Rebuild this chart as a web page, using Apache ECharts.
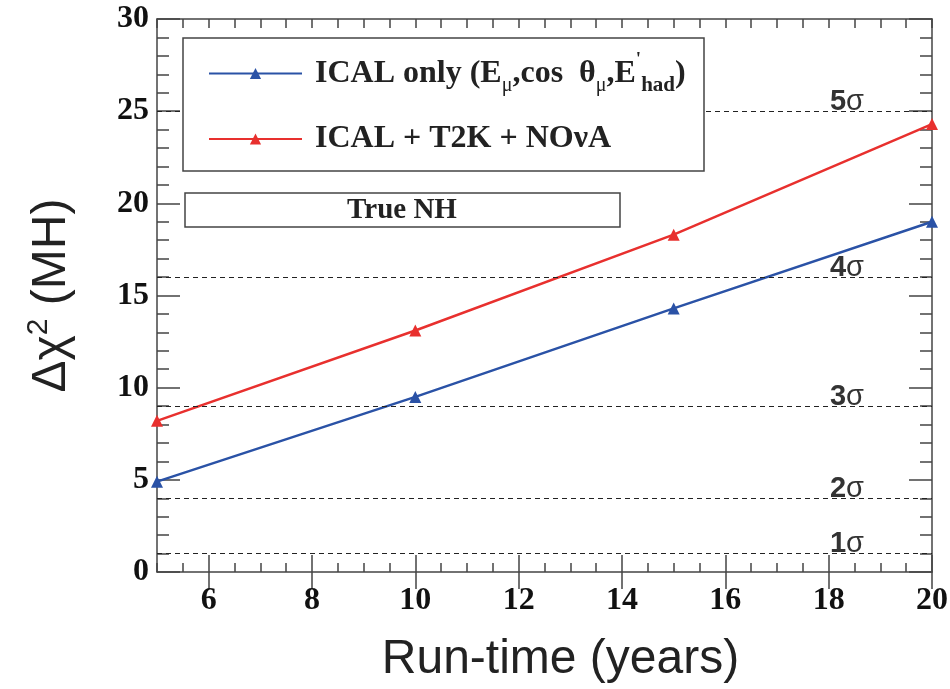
<!DOCTYPE html>
<html>
<head>
	<meta charset="utf-8">
	<script src="https://cdn.jsdelivr.net/npm/echarts@6/dist/echarts.min.js"></script>
	<style>html,body{margin:0;padding:0;background:#fff;}</style>
</head>
<body>
	<div id="main" style="width: 950px; height: 689px"></div>
	<script type="text/javascript">
		// run-time in years
		var years = [5, 10, 15, 20];
		// delta chi^2 values
		var icalOnly = [4.9, 9.5, 14.3, 19.0];
		var icalT2kNova = [8.2, 13.1, 18.3, 24.3];
		// sigma reference levels (delta chi^2 = n^2)
		var sigmaLevels = [1, 4, 9, 16, 25];
		var sigmaNames = ['1', '2', '3', '4', '5'];
		var xMajorTicks = [6, 8, 10, 12, 14, 16, 18, 20];

		var serifBold = { fontFamily: 'Liberation Serif', fontWeight: 'bold', color: '#111' };
		var frameColor = '#444';

		var myChart = echarts.init(document.getElementById('main'));

		function pairs(xs, ys) {
			return xs.map(function (x, i) { return [x, ys[i]]; });
		}

		// minor ticks axis + major ticks axis, both at bottom and top
		function xAxisPair(pos, withLabels) {
			return [{
				type: 'value', position: pos, min: 5, max: 20, interval: 0.5,
				axisLine: { show: true, onZero: false, lineStyle: { color: frameColor, width: 1.5 } },
				axisTick: { show: true, inside: true, length: 9, lineStyle: { color: frameColor, width: 1.5 } },
				axisLabel: { show: false },
				splitLine: { show: false }
			}, {
				type: 'value', position: pos, min: 5, max: 20,
				axisLine: { show: false },
				axisTick: { show: true, inside: true, length: 17, customValues: xMajorTicks,
					lineStyle: { color: frameColor, width: 1.5 } },
				axisLabel: withLabels ? Object.assign({ show: true, fontSize: 32, margin: 13,
					customValues: xMajorTicks }, serifBold) : { show: false },
				splitLine: { show: false },
				name: withLabels ? 'Run-time (years)' : '',
				nameLocation: 'middle',
				nameGap: 64,
				nameTextStyle: { fontFamily: 'Liberation Sans', fontSize: 48, color: '#222', padding: [0, 0, 0, 32] }
			}];
		}

		function yAxisDef(pos, withLabels) {
			return {
				type: 'value', position: pos, min: 0, max: 30, interval: 5,
				axisLine: { show: true, onZero: false, lineStyle: { color: frameColor, width: 1.5 } },
				axisTick: { show: true, inside: true, length: 23, lineStyle: { color: frameColor, width: 1.5 } },
				minorTick: { show: true, splitNumber: 5, length: 12, lineStyle: { color: frameColor, width: 1.5 } },
				axisLabel: withLabels ? Object.assign({ show: true, fontSize: 32, margin: 8 }, serifBold) : { show: false },
				splitLine: { show: false },
				name: withLabels ? 'Δχ{sup|2} (MH)' : '',
				nameLocation: 'middle',
				nameGap: 77,
				nameTextStyle: {
					fontFamily: 'Liberation Sans', fontSize: 48, color: '#222',
					rich: { sup: { fontFamily: 'Liberation Sans', fontSize: 30, color: '#222', padding: [0, 0, 26, 0] } }
				}
			};
		}

		var legendRich = {
			n: { fontFamily: 'Liberation Serif', fontWeight: 'bold', fontSize: 32, color: '#222' },
			mu: { fontFamily: 'Liberation Serif', fontSize: 20, color: '#222', padding: [24, 0, 0, 0] },
			sub: { fontFamily: 'Liberation Serif', fontWeight: 'bold', fontSize: 21, color: '#222', padding: [24, 0, 0, 0] },
			sup: { fontFamily: 'Liberation Serif', fontWeight: 'bold', fontSize: 19, color: '#222', padding: [0, 0, 26, 0] }
		};

		var option = {
			backgroundColor: '#fff',
			animation: false,
			grid: { left: 157, top: 19, right: 18, bottom: 117, outerBoundsMode: 'none', containLabel: false },
			xAxis: xAxisPair('bottom', true).concat(xAxisPair('top', false)),
			yAxis: [yAxisDef('left', true), yAxisDef('right', false)],
			legend: {
				orient: 'vertical',
				left: 203, top: 46,
				itemWidth: 93, itemHeight: 14, itemGap: 27,
				z: 20,
				data: ['ICAL only', 'ICAL + T2K + NOvA'],
				formatter: function (name) {
					if (name === 'ICAL only') {
						return '{n|ICAL only (E}{mu|μ}{n|,cos  θ}{mu|μ}{n|,E}{sup|\'}{sub|had}{n|)}';
					}
					return '{n|ICAL + T2K + NOνA}';
				},
				textStyle: { padding: [0, 0, 0, 8], rich: legendRich }
			},
			graphic: [{
				type: 'rect', z: 10,
				shape: { x: 183, y: 38, width: 521, height: 133 },
				style: { fill: '#fff', stroke: '#444', lineWidth: 1.5 }
			}, {
				type: 'rect', z: 10,
				shape: { x: 185, y: 193, width: 435, height: 34 },
				style: { fill: '#fff', stroke: '#444', lineWidth: 1.5 }
			}, {
				type: 'text', z: 11,
				x: 402, y: 211,
				style: { text: 'True NH', fontFamily: 'Liberation Serif', fontWeight: 'bold', fontSize: 29,
					fill: '#222', align: 'center', verticalAlign: 'middle' }
			}],
			series: [{
				name: 'ICAL only',
				type: 'line',
				xAxisIndex: 0, yAxisIndex: 0,
				data: pairs(years, icalOnly),
				symbol: 'triangle', symbolSize: 12,
				itemStyle: { color: '#2a52a6' },
				lineStyle: { color: '#2a52a6', width: 2.5 },
				markLine: {
					silent: true,
					symbol: 'none',
					lineStyle: { color: '#222', type: [5, 4], width: 1.2 },
					label: {
						show: true,
						position: 'insideEndTop',
						distance: 0,
						padding: [0, 68, 0, 0],
						formatter: function (p) {
							return '{d|' + sigmaNames[sigmaLevels.indexOf(p.value)] + '}{s|σ}';
						},
						rich: {
							d: { fontFamily: 'Liberation Sans', fontWeight: 'bold', fontSize: 29, lineHeight: 19, color: '#333' },
							s: { fontFamily: 'Liberation Sans', fontSize: 29, lineHeight: 19, color: '#333' }
						}
					},
					data: sigmaLevels.map(function (v) { return { yAxis: v }; })
				}
			}, {
				name: 'ICAL + T2K + NOvA',
				type: 'line',
				xAxisIndex: 0, yAxisIndex: 0,
				data: pairs(years, icalT2kNova),
				symbol: 'triangle', symbolSize: 12,
				itemStyle: { color: '#e8302e' },
				lineStyle: { color: '#e8302e', width: 2.5 }
			}]
		};

		myChart.setOption(option);
	</script>
</body>
</html>
